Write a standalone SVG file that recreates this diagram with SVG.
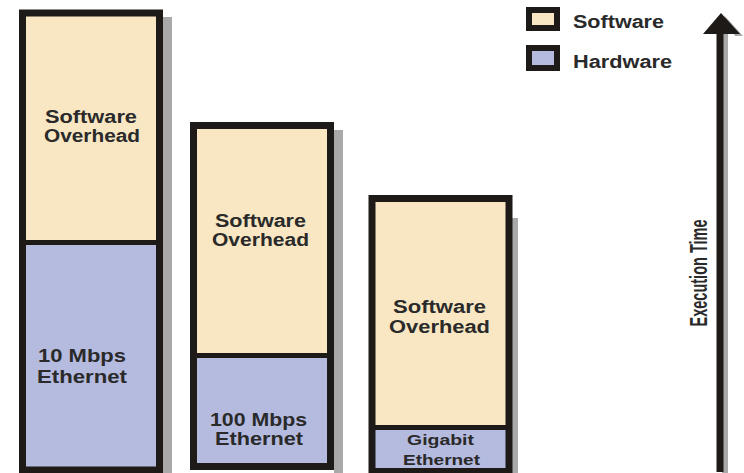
<svg xmlns="http://www.w3.org/2000/svg" width="744" height="473" viewBox="0 0 744 473">
<style>
.sw{fill:#F9E7C3}
.hw{fill:#B5BADF}
.bd{fill:none;stroke:#1E1A18;stroke-width:7}
.dv{stroke:#1E1A18;stroke-width:5}
.sh{fill:#A9A9A9}
.t{font-family:"Liberation Sans",Arial,sans-serif;font-weight:bold;font-size:18px;fill:#2A2A2A}
.ts{font-size:15px}
.ax{font-family:"Liberation Sans",Arial,sans-serif;font-weight:bold;font-size:24px;fill:#2A2A2A}
</style>
<rect width="744" height="473" fill="#FFFFFF"/>

<g id="bar1">
  <rect class="sh" x="163" y="17" width="9" height="456"/>
  <rect class="sw" x="22.5" y="13" width="137" height="229"/>
  <rect class="hw" x="22.5" y="242" width="137" height="228"/>
  <line class="dv" x1="22.5" y1="242.5" x2="159.5" y2="242.5"/>
  <rect class="bd" x="22.5" y="13" width="137" height="457"/>
  <text class="t" x="45" y="123" textLength="92" lengthAdjust="spacingAndGlyphs">Software</text>
  <text class="t" x="44" y="142" textLength="96" lengthAdjust="spacingAndGlyphs">Overhead</text>
  <text class="t" x="38" y="362" textLength="88" lengthAdjust="spacingAndGlyphs">10 Mbps</text>
  <text class="t" x="37" y="383" textLength="90" lengthAdjust="spacingAndGlyphs">Ethernet</text>
</g>

<g id="bar2">
  <rect class="sh" x="334" y="130" width="9" height="343"/>
  <rect class="sw" x="193.5" y="125.5" width="137" height="230"/>
  <rect class="hw" x="193.5" y="355.5" width="137" height="111"/>
  <line class="dv" x1="193.5" y1="355.5" x2="330.5" y2="355.5"/>
  <rect class="bd" x="193.5" y="125.5" width="137" height="341"/>
  <text class="t" x="215" y="227" textLength="91" lengthAdjust="spacingAndGlyphs">Software</text>
  <text class="t" x="212" y="246" textLength="97" lengthAdjust="spacingAndGlyphs">Overhead</text>
  <text class="t" x="210" y="426" textLength="97" lengthAdjust="spacingAndGlyphs">100 Mbps</text>
  <text class="t" x="215" y="445" textLength="88" lengthAdjust="spacingAndGlyphs">Ethernet</text>
</g>

<g id="bar3">
  <rect class="sh" x="512" y="218" width="6" height="255"/>
  <rect class="sw" x="372" y="198.5" width="137" height="229"/>
  <rect class="hw" x="372" y="427.5" width="137" height="44"/>
  <line class="dv" x1="372" y1="427.5" x2="509" y2="427.5"/>
  <rect class="bd" x="372" y="198.5" width="137" height="273"/>
  <text class="t" x="393" y="313" textLength="93" lengthAdjust="spacingAndGlyphs">Software</text>
  <text class="t" x="389" y="333" textLength="101" lengthAdjust="spacingAndGlyphs">Overhead</text>
  <text class="t ts" x="407" y="445" textLength="67" lengthAdjust="spacingAndGlyphs">Gigabit</text>
  <text class="t ts" x="403" y="465" textLength="77" lengthAdjust="spacingAndGlyphs">Ethernet</text>
</g>

<g id="legend">
  <rect class="sw" x="529" y="10" width="28" height="18" stroke="#1E1A18" stroke-width="6"/>
  <text class="t" x="573" y="28" textLength="91" lengthAdjust="spacingAndGlyphs">Software</text>
  <rect class="hw" x="529" y="48" width="28" height="20" stroke="#1E1A18" stroke-width="6"/>
  <text class="t" x="573" y="68" textLength="99" lengthAdjust="spacingAndGlyphs">Hardware</text>
</g>

<g id="axis">
  <rect class="sh" x="722" y="30" width="6" height="443"/>
  <polygon class="sh" points="724,15 743,36 735,36"/>
  <rect x="716.5" y="30" width="7" height="442" fill="#1E1A18"/>
  <polygon points="721,13 740,34 703,34" fill="#1E1A18"/>
  <text class="ax" transform="translate(707,273) rotate(-90)" text-anchor="middle" textLength="107" lengthAdjust="spacingAndGlyphs">Execution Time</text>
</g>
</svg>
